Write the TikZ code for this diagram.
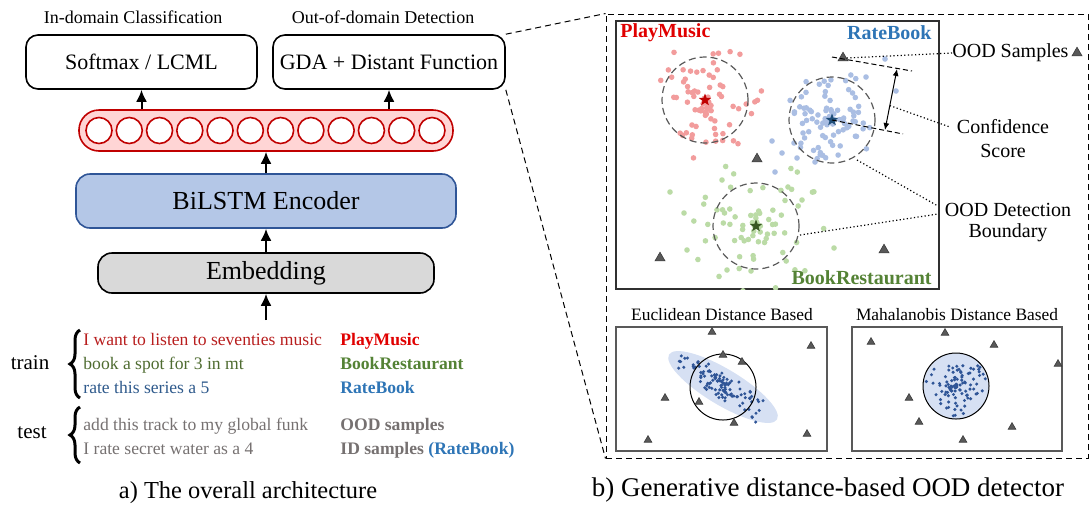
\documentclass[tikz,border=0pt]{standalone}
\usepackage{fontspec}
\setmainfont{Liberation Serif}
\usepackage{tikz}
\usetikzlibrary{shapes.geometric,arrows.meta,calc,decorations.pathreplacing}

\definecolor{pmred}{HTML}{E00000}
\definecolor{sentred}{HTML}{B81E1E}
\definecolor{brgreen}{HTML}{548235}
\definecolor{sentgreen}{HTML}{4E6B30}
\definecolor{rbblue}{HTML}{2E75B6}
\definecolor{sentblue}{HTML}{2F5A8C}
\definecolor{oodgray}{HTML}{767171}
\definecolor{encfill}{HTML}{B4C7E7}
\definecolor{encdraw}{HTML}{2F5597}
\definecolor{embfill}{HTML}{D9D9D9}
\definecolor{capfill}{HTML}{FFD5D5}
\definecolor{capdraw}{HTML}{C00000}
\definecolor{dotred}{HTML}{F29C9C}
\definecolor{dotblue}{HTML}{AABEE3}
\definecolor{dotgreen}{HTML}{BBDBA6}
\definecolor{dotdark}{HTML}{2F5597}
\definecolor{clusterfill}{HTML}{D6E0F3}
\definecolor{starred}{HTML}{C00000}
\definecolor{starblue}{HTML}{1F4E79}
\definecolor{stargreen}{HTML}{385723}
\definecolor{tri}{HTML}{595959}
\definecolor{tridraw}{HTML}{3A3A3A}
\definecolor{frame}{HTML}{303030}
\definecolor{bnd}{HTML}{595959}

\newcommand{\fsz}[1]{\fontsize{#1}{#1}\selectfont}

\tikzset{
  outbox/.style={draw, thick, rounded corners=6pt, minimum height=27pt, inner sep=0pt, font=\fsz{11}},
  arr/.style={-{Latex[length=6pt,width=5.5pt]}, line width=1pt},
  unit/.style={circle, draw=capdraw, fill=white, thick, minimum size=13pt, inner sep=0pt},
  ood/.style={regular polygon, regular polygon sides=3, fill=tri, draw=tridraw, line width=0.3pt, minimum size=5.8pt, inner sep=0pt},
  oodsm/.style={ood, minimum size=4.4pt},
  bound/.style={circle, draw=bnd, dash pattern=on 3.5pt off 2pt, line width=0.6pt, minimum size=43pt, inner sep=0pt},
  pointer/.style={dash pattern=on 0.6pt off 1.2pt, line width=0.6pt},
  sent/.style={anchor=base west, inner sep=0pt, font=\fsz{8.8}},
  lab/.style={anchor=base west, inner sep=0pt, font=\fsz{8.8}\bfseries},
  centroid/.style={star, star points=5, star point ratio=2.4, inner sep=0pt, minimum size=6.5pt},
}

\begin{document}
\begin{tikzpicture}[x=0.5pt, y=-0.5pt]
    \useasboundingbox (0,0) rectangle (1090,521);
    \pgfmathsetseed{11}

    % Output heads
    \node[font=\fsz{9}] (idc) at (133,17) {In-domain Classification};
    \node[font=\fsz{9}] (oodd) at (383,17) {Out-of-domain Detection};
    \node[outbox, minimum width=115.5pt] (softmax) at (141.5,62) {Softmax / LCML};
    \node[outbox, minimum width=116pt] (gda) at (389,62) {GDA + Distant Function};

    % Feature vector
    \node[draw=capdraw, fill=capfill, thick, rounded corners=10pt, minimum width=187pt, minimum height=20.5pt, inner sep=0pt] (feat) at (266,130.5) {};
    \foreach \i in {0,...,11}
        \node[unit] (u\i) at (99+30.27*\i,130.5) {};

    % Encoder and embedding
    \node[draw=encdraw, fill=encfill, thick, rounded corners=7pt, minimum width=190pt, minimum height=27pt, inner sep=0pt, font=\fsz{13}] (bilstm) at (266,201) {BiLSTM Encoder};
    \node[draw, fill=embfill, thick, rounded corners=7pt, minimum width=168pt, minimum height=20pt, inner sep=0pt, font=\fsz{13}] (embed) at (266,273) {Embedding};
    \coordinate (in) at (266,320);

    \draw[arr] (softmax.south |- feat.north) -- (softmax.south);
    \draw[arr] (gda.south |- feat.north) -- (gda.south);
    \draw[arr] (bilstm.north) -- (feat.south);
    \draw[arr] (embed.north) -- (bilstm.south);
    \draw[arr] (in) -- (embed.south);

    % Utterances
    \node[sent, text=sentred] (s1) at (83,345) {I want to listen to seventies music};
    \node[sent, text=sentgreen] (s2) at (83,369) {book a spot for 3 in mt};
    \node[sent, text=sentblue] (s3) at (83,393) {rate this series a 5};
    \node[sent, text=oodgray] (s4) at (83,430) {add this track to my global funk};
    \node[sent, text=oodgray] (s5) at (83,454) {I rate secret water as a 4};
    \node[lab, text=pmred] (l1) at (340,345) {PlayMusic};
    \node[lab, text=brgreen] (l2) at (340,369) {BookRestaurant};
    \node[lab, text=rbblue] (l3) at (340,393) {RateBook};
    \node[lab, text=oodgray] (l4) at (340,430) {OOD samples};
    \node[lab, text=oodgray] (l5) at (340,454) {ID samples \textcolor{rbblue}{(RateBook)}};

    % Train / test braces
    \coordinate (trb) at (80,398);
    \coordinate (trt) at (80,330);
    \coordinate (teb) at (80,463);
    \coordinate (tet) at (80,407);
    \draw[decorate, decoration={brace, amplitude=5pt}, line width=1.5pt] (trb) -- (trt);
    \draw[decorate, decoration={brace, amplitude=5pt}, line width=1.5pt] (teb) -- (tet);
    \node[font=\fsz{10.5}] (train) at (30,363) {train};
    \node[font=\fsz{10.5}] (test) at (32,433) {test};

    \node[font=\fsz{12.2}] (capa) at (248,493) {a) The overall architecture};

    % Detector panel
    \node[draw, dash pattern=on 3pt off 2pt, line width=0.5pt, minimum width=241pt, minimum height=222pt, inner sep=0pt] (detail) at (847,236) {};
    \draw[dash pattern=on 3pt off 2pt, line width=0.5pt] (gda.north east) -- (detail.north west);
    \draw[dash pattern=on 3pt off 2pt, line width=0.5pt] (gda.south east) -- (detail.south west);

    \node[draw=frame, line width=0.7pt, minimum width=161.5pt, minimum height=134pt, inner sep=0pt] (scat) at (777.5,155) {};
    \coordinate (pm) at (705,100);
    \coordinate (rb) at (832,120);
    \coordinate (br) at (756,226);

    % Samples of each intent
    \begin{scope}
        \clip (scat.south west) rectangle (scat.north east);
        \foreach \i in {1,...,80}{
            \pgfmathsetmacro{\da}{360*rnd}
            \pgfmathsetmacro{\dr}{60*rnd}
            \fill[dotred] ($(pm)+(\da:\dr)$) circle (1.4pt);
        }
        \foreach \i in {1,...,90}{
            \pgfmathsetmacro{\da}{360*rnd}
            \pgfmathsetmacro{\dr}{50*rnd}
            \fill[dotblue] ($(rb)+(\da:\dr)$) circle (1.4pt);
        }
        \foreach \p in {(772,141),(782,153),(775,172),(794,143),(797,158),(815,162),(885,59),(866,77),(896,91),(803,133)}
            \fill[dotblue] \p circle (1.4pt);
        \foreach \i in {1,...,80}{
            \pgfmathsetmacro{\da}{360*rnd}
            \pgfmathsetmacro{\dr}{68*rnd}
            \fill[dotgreen] ($(br)+(\da:\dr)$) circle (1.4pt);
        }
        \foreach \p in {(670,192),(684,213),(687,250),(727,270),(751,271),(834,248),(802,200),(722,180)}
            \fill[dotgreen] \p circle (1.4pt);
    \end{scope}

    % Boundaries and centroids
    \node[bound] (pmb) at (pm) {};
    \node[bound] (rbb) at (rb) {};
    \node[bound] (brb) at (br) {};
    \node[centroid, fill=starred] (pms) at (pm) {};
    \node[centroid, fill=starblue] (rbs) at (rb) {};
    \node[centroid, fill=stargreen] (brs) at (br) {};

    \node[anchor=west, inner sep=0pt, font=\fsz{10}\bfseries, text=pmred] (pmlab) at (620,33) {PlayMusic};
    \node[anchor=east, inner sep=0pt, font=\fsz{10}\bfseries, text=rbblue] (rblab) at (932,33) {RateBook};
    \node[anchor=east, inner sep=0pt, font=\fsz{10}\bfseries, text=brgreen] (brlab) at (932,278) {BookRestaurant};

    % OOD samples
    \node[ood] (t1) at (843,58) {};
    \node[ood] (t2) at (757,159) {};
    \node[ood] (t3) at (660,258) {};
    \node[ood] (t4) at (884,250) {};
    \node[anchor=west, inner sep=0pt, font=\fsz{10}] (oodtxt) at (952,53) {OOD Samples};
    \node[ood] (tl) at (1077,53) {};
    \draw[pointer] (t1.east) -- (oodtxt.west);

    % Confidence score
    \coordinate (tg1) at (832,57);
    \coordinate (tg2) at (912,71);
    \coordinate (tg3) at (903,134);
    \coordinate (ca) at (897,69);
    \coordinate (cb) at (885,130);
    \draw[dash pattern=on 2.5pt off 1.5pt, line width=0.5pt] (tg1) -- (tg2);
    \draw[dash pattern=on 2.5pt off 1.5pt, line width=0.5pt] (rb) -- (tg3);
    \draw[{Latex[length=3.5pt,width=3pt]}-{Latex[length=3.5pt,width=3pt]}, line width=0.5pt] (ca) -- (cb);
    \node[font=\fsz{10}] (conf1) at (1003,127) {Confidence};
    \node[font=\fsz{10}] (conf2) at (1003,151) {Score};
    \draw[pointer] ($(ca)!0.6!(cb)$) -- (conf1.west);

    % Detection boundary
    \node[font=\fsz{10}] (odb1) at (1008,210) {OOD Detection};
    \node[font=\fsz{10}] (odb2) at (1008,233) {Boundary};
    \draw[pointer] ($(rb)+(25,40)$) -- ($(odb1.west)+(0,-4)$);
    \draw[pointer] ($(br)+(44,9)$) -- ($(odb1.west)+(0,4)$);

    % Euclidean distance
    \node[font=\fsz{8.7}] (eutxt) at (722,315) {Euclidean Distance Based};
    \node[draw=tri, line width=0.7pt, minimum width=105.5pt, minimum height=62pt, inner sep=0pt] (eubox) at (721.5,389) {};
    \coordinate (eu) at (723,387);
    \node[ellipse, fill=clusterfill, rotate=-31, minimum width=63pt, minimum height=18pt, inner sep=0pt] (euell) at (eu) {};
    \foreach \i in {1,...,110}{
        \pgfmathsetmacro{\pu}{58*(rnd+rnd-1)}
        \pgfmathsetmacro{\pv}{15*(rnd+rnd-1)}
        \fill[dotdark] ($(eu)+(0.857*\pu-0.515*\pv,0.515*\pu+0.857*\pv)$) circle (0.85pt);
    }
    \node[circle, draw, line width=0.5pt, minimum size=33pt, inner sep=0pt] (eucirc) at (eu) {};
    \foreach \p [count=\k] in {(712,332),(811,346),(723,355),(742,362),(665,398),(699,402),(734,423),(648,440),(807,434)}
        \node[oodsm] (e\k) at \p {};

    % Mahalanobis distance
    \node[font=\fsz{8.7}] (mhtxt) at (957,315) {Mahalanobis Distance Based};
    \node[draw=tri, line width=0.7pt, minimum width=105pt, minimum height=62pt, inner sep=0pt] (mhbox) at (957,389) {};
    \coordinate (mh) at (956,386);
    \node[circle, fill=clusterfill, minimum size=33pt, inner sep=0pt] (mhfill) at (mh) {};
    \foreach \i in {1,...,100}{
        \pgfmathsetmacro{\da}{360*rnd}
        \pgfmathsetmacro{\dr}{31*rnd}
        \fill[dotdark] ($(mh)+(\da:\dr)$) circle (0.85pt);
    }
    \node[circle, draw, line width=0.5pt, minimum size=33pt, inner sep=0pt] (mhcirc) at (mh) {};
    \foreach \p [count=\k] in {(871,342),(945,333),(994,345),(1058,364),(909,398),(919,422),(1012,427),(963,440)}
        \node[oodsm] (m\k) at \p {};

    \node[font=\fsz{13.5}] (capb) at (828,490) {b) Generative distance-based OOD detector};
\end{tikzpicture}
\end{document}
